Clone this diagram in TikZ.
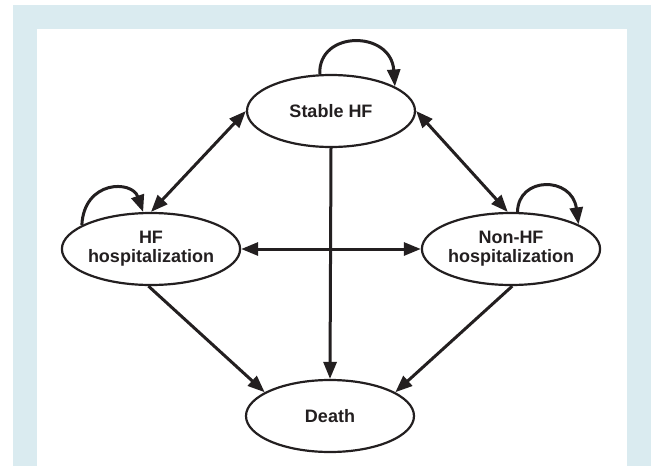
\documentclass[tikz,border=0pt]{standalone}
\usepackage{fontspec}
\setmainfont{Liberation Sans}
\usetikzlibrary{shapes.geometric,arrows.meta}
\definecolor{frameblue}{HTML}{DAEBF0}
\definecolor{ink}{HTML}{231F20}
\begin{document}
\begin{tikzpicture}[x=1pt,y=-1pt,
  state/.style={ellipse, draw=ink, line width=2.2pt, minimum width=168pt, minimum height=72pt,
    inner sep=0pt, align=center, font=\fontsize{18}{19}\selectfont\bfseries, text=ink},
  conn/.style={draw=ink, line width=3pt, -{Triangle[length=17pt,width=13pt]}},
  biconn/.style={draw=ink, line width=3pt, {Triangle[length=17pt,width=13pt]}-{Triangle[length=17pt,width=13pt]}}]
\useasboundingbox (0,0) rectangle (651,466);
\fill[frameblue] (13,5) rectangle (651,466);
\fill[white] (37,29) rectangle (627,466);

\node[state] (S) at (331,111) {Stable HF};
\node[state] (H) at (151,249) {HF\\hospitalization};
\node[state] (N) at (511,249) {Non-HF\\hospitalization};
\node[state] (D) at (330,416) {Death};

% self loops
\draw[conn] (S.107) .. controls (318,30) and (391,30) .. (S.21);
\draw[conn] (H.161) .. controls (84,180) and (132,180) .. (H.102);
\draw[conn] (N.80) .. controls (518,176) and (572,176) .. (N.20);

% transitions
\draw[biconn] (H.north) -- (S.west);
\draw[biconn] (S.east) -- (N.95);
\draw[biconn] (H.east) -- (N.west);
\draw[conn] (S.south) -- (D.north);
\draw[conn] (H.266) -- (D.160);
\draw[conn] (N.272) -- (D.20);
\end{tikzpicture}
\end{document}
